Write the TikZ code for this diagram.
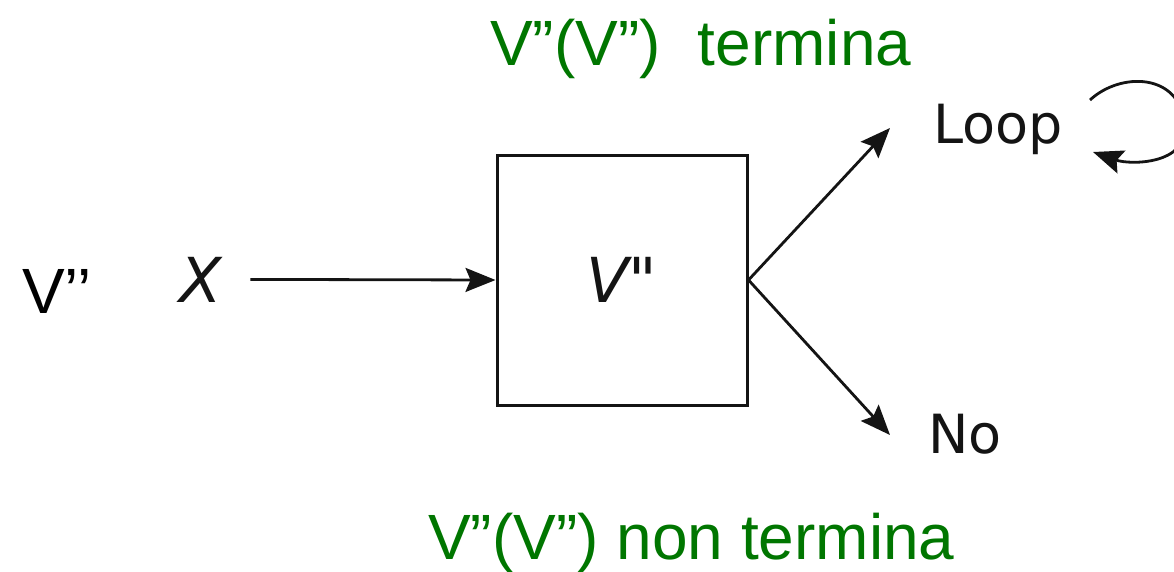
\documentclass[tikz,border=0pt]{standalone}
\usepackage{fontspec}
\setmainfont{Liberation Sans}
\newfontfamily\diafont{DejaVu Sans}
\usetikzlibrary{arrows.meta}
\definecolor{kgreen}{RGB}{0,118,0}
\definecolor{ink}{RGB}{20,20,20}
\begin{document}
\begin{tikzpicture}[x=1pt,y=-1pt,
  bigtxt/.style={font=\fontsize{64}{64}\selectfont, inner sep=0pt, anchor=base west},
  greentxt/.style={bigtxt, text=kgreen},
  diatxt/.style={font=\diafont\fontsize{54}{54}\selectfont, inner sep=0pt, anchor=base, text=ink},
  diavar/.style={font=\diafont\itshape\fontsize{62}{62}\selectfont, inner sep=0pt, text=ink},
  blockbox/.style={draw=ink, line width=3pt, minimum width=250pt, minimum height=250pt, inner sep=0pt},
  conn/.style={draw=ink, line width=2.8pt, -{Stealth[length=30pt,width=24pt,inset=5pt]}}]
\useasboundingbox (0,0) rectangle (1174,571);
\clip (0,0) rectangle (1174,571);

\node[greentxt] (top) at (490,65) {V”(V”)\hspace{37pt}termina};
\node[greentxt] (bottom) at (428,559) {V”(V”) non termina};
\node[bigtxt] (left) at (22,313) {V’’};

\node[diavar, anchor=base] (x) at (201,302) {X};
\node[blockbox, diavar] (box) at (622,280) {V"};
\node[diatxt] (loop) at (998,143) {Loop};
\node[diatxt] (no) at (965,453) {No};

\coordinate (tipL) at (890,128);
\coordinate (tipN) at (890,435);
\coordinate (loopa) at (1090,100);
\coordinate (loopr) at (1185,125);
\coordinate (loopb) at (1093,152);

\draw[conn] ([xshift=28pt]x.east) -- (box.west);
\draw[conn] (box.east) -- (tipL);
\draw[conn] (box.east) -- (tipN);
\draw[conn] (loopa) .. controls (1120,72) and (1180,72) .. (loopr)
  .. controls (1188,165) and (1130,165) .. (loopb);
\end{tikzpicture}
\end{document}
